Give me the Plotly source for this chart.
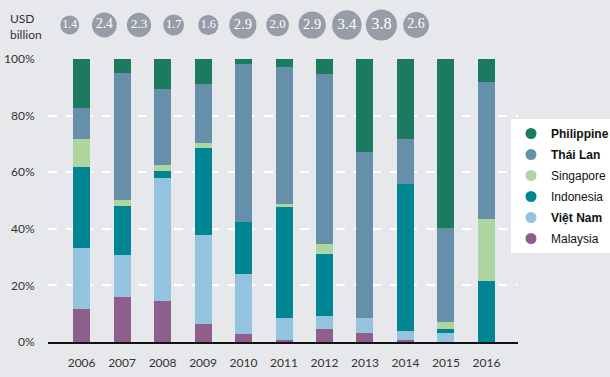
import plotly.graph_objects as go

years = ["2006", "2007", "2008", "2009", "2010", "2011", "2012", "2013", "2014", "2015", "2016"]
totals = [1.4, 2.4, 2.3, 1.7, 1.6, 2.9, 2.0, 2.9, 3.4, 3.8, 2.6]
total_labels = ["1.4", "2.4", "2.3", "1.7", "1.6", "2.9", "2.0", "2.9", "3.4", "3.8", "2.6"]

malaysia = [11.8, 15.8, 14.6, 6.5, 2.9, 0.8, 4.7, 3.3, 0.8, 0.0, 0.0]
vietnam = [21.5, 15.1, 43.5, 31.4, 21.2, 7.8, 4.6, 5.3, 3.2, 3.3, 0.0]
indonesia = [28.7, 17.3, 2.4, 30.8, 18.4, 39.2, 21.9, 0.0, 51.9, 1.4, 21.7]
singapore = [9.8, 2.1, 2.2, 1.7, 0.0, 1.1, 3.5, 0.0, 0.0, 2.5, 21.9]
thailand = [11.0, 44.9, 26.8, 20.9, 55.8, 48.4, 59.9, 58.7, 15.9, 33.2, 48.4]
philippine = [17.2, 4.8, 10.5, 8.7, 1.7, 2.7, 5.4, 32.7, 28.2, 59.6, 8.0]

series = [
    ("Malaysia", "Malaysia", malaysia, "#8F5F8B"),
    ("Việt Nam", "<b>Việt Nam</b>", vietnam, "#93C3DF"),
    ("Indonesia", "Indonesia", indonesia, "#028592"),
    ("Singapore", "Singapore", singapore, "#AED59F"),
    ("Thái Lan", "<b>Thái Lan</b>", thailand, "#6690AA"),
    ("Philippine", "<b>Philippine</b>", philippine, "#1C7B5E"),
]

fig = go.Figure()
for key, label, vals, col in series:
    fig.add_trace(go.Bar(x=years, y=vals, name=key, marker=dict(color=col, line=dict(width=0)),
                         width=0.42, showlegend=False))
for key, label, vals, col in reversed(series):
    fig.add_trace(go.Scatter(x=[None], y=[None], mode="markers", name=label, legendgroup=key,
                             marker=dict(color=col, size=11, symbol="circle")))

sizes = [16 * (v ** 0.5) for v in totals]
fsizes = [9 + 1.9 * v for v in totals]
fig.add_trace(go.Scatter(
    x=years, y=[0] * len(years), mode="markers+text", xaxis="x2", yaxis="y2",
    marker=dict(size=sizes, color="#737D8A", line=dict(width=0)),
    text=total_labels, textposition="middle center",
    textfont=dict(family="Liberation Serif, DejaVu Serif, serif", color="white", size=fsizes),
    showlegend=False, hoverinfo="skip"))

fig.update_layout(
    width=610, height=377,
    margin=dict(l=48, r=92, t=5, b=35, autoexpand=False),
    paper_bgcolor="#E7E8EB", plot_bgcolor="#E7E8EB",
    barmode="stack", bargap=0.58,
    font=dict(family="Lato, Open Sans, sans-serif", size=12, color="#333333"),
    xaxis=dict(range=[-0.83, 10.78], showgrid=False, showline=True, linecolor="#111111", linewidth=1.5,
               ticks="outside", ticklen=9, tickcolor="rgba(0,0,0,0)",
               tickfont=dict(size=12, color="#333333"), zeroline=False, fixedrange=True),
    yaxis=dict(domain=[0, 0.8398], range=[0, 100], tickvals=[0, 20, 40, 60, 80, 100],
               ticktext=["0%", "20%", "40%", "60%", "80%", "100%"],
               showgrid=True, gridcolor="white", gridwidth=1.5, griddash="dash",
               ticks="outside", ticklen=10, tickcolor="rgba(0,0,0,0)",
               zeroline=False, tickfont=dict(size=12, color="#333333")),
    xaxis2=dict(domain=[0.0094, 0.820], range=[-0.5, 10.5], anchor="y2", visible=False),
    yaxis2=dict(domain=[0.87, 1.0], range=[-1.19, 1.0], anchor="x2", visible=False),
    legend=dict(x=(511 - 48) / 470, y=(342 - 119) / 337, xanchor="left", yanchor="top", bgcolor="white",
                traceorder="grouped", font=dict(family="Liberation Sans, Arial, sans-serif", size=12, color="#111111"),
                itemwidth=30, tracegroupgap=2),
)
fig.add_annotation(text="USD<br>billion", xref="paper", yref="paper",
                   x=(8 - 48) / 470, y=(342 - 26) / 337, xanchor="left", yanchor="middle",
                   showarrow=False, align="left",
                   font=dict(family="Lato, Open Sans, sans-serif", size=12, color="#333333"))

fig.write_html("out.html", config={"displayModeBar": False},
               post_script="document.body.style.margin='0';")
